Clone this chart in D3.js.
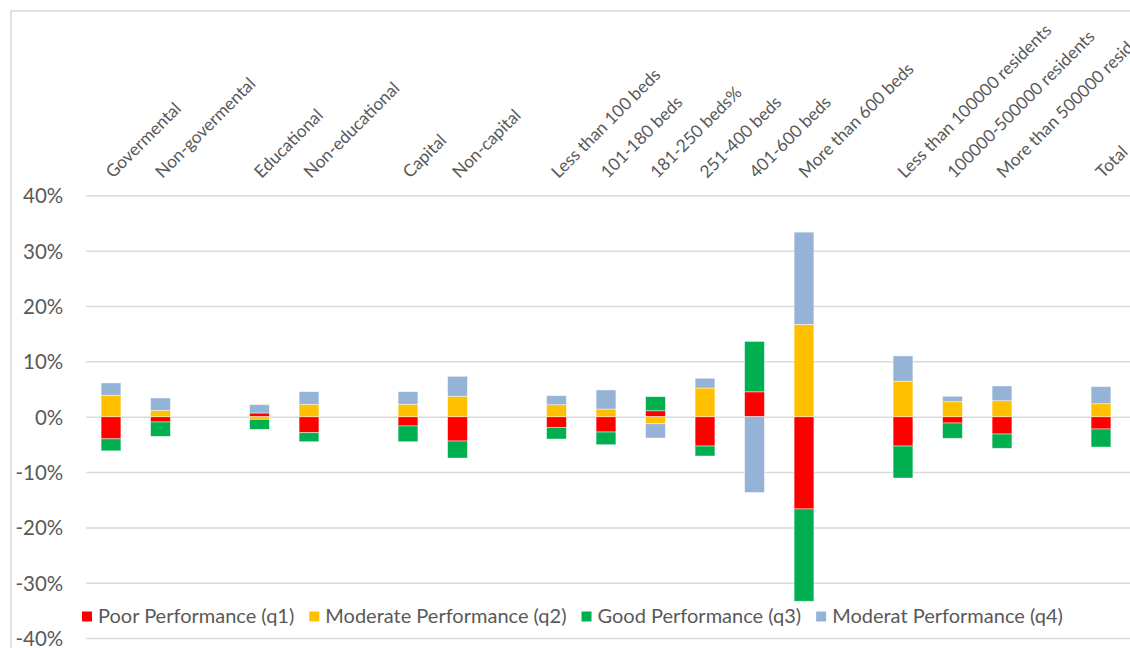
<!DOCTYPE html>
<html>
<head>
<meta charset="utf-8">
<script src="https://cdn.jsdelivr.net/npm/d3@7"></script>
<style>
  html, body { margin: 0; padding: 0; background: #fff; }
  #chart { width: 1130px; height: 648px; overflow: hidden; }
  text { font-family: Lato, "Open Sans", sans-serif; fill: #595959; }
</style>
</head>
<body>
<div id="chart"></div>
<script>
// categories ("" = empty spacer slot, as in the source sheet)
const categories = [
  "Govermental", "Non-govermental", "",
  "Educational", "Non-educational", "",
  "Capital", "Non-capital", "",
  "Less than 100 beds", "101-180 beds", "181-250 beds%", "251-400 beds", "401-600 beds", "More than 600 beds", "",
  "Less than 100000 residents", "100000-500000 residents", "More than 500000 residents", "",
  "Total"
];

// values in percent
const q1 = [-4.0, -0.96, null, 0.67, -2.89, null, -1.68, -4.39, null, -1.93, -2.77, 1.08, -5.3, 4.5, -16.67, null, -5.3, -1.14, -3.13, null, -2.22];
const q2 = [3.87, 1.15, null, -0.48, 2.24, null, 2.24, 3.69, null, 2.17, 1.39, -1.27, 5.19, 0, 16.67, null, 6.4, 2.71, 2.89, null, 2.35];
const q3 = [-2.17, -2.59, null, -1.8, -1.63, null, -2.84, -3.08, null, -2.1, -2.29, 2.54, -1.8, 9.1, -16.67, null, -5.78, -2.77, -2.58, null, -3.26];
const q4 = [2.23, 2.23, null, 1.5, 2.28, null, 2.28, 3.61, null, 1.63, 3.44, -2.58, 1.75, -13.7, 16.67, null, 4.58, 0.98, 2.66, null, 3.08];

const seriesNames = ["Poor Performance (q1)", "Moderate Performance (q2)", "Good Performance (q3)", "Moderat Performance (q4)"];
const seriesKeys = ["q1", "q2", "q3", "q4"];
const colors = ["#ff0000", "#ffc000", "#00b050", "#95b3d7"];
const yTicks = [-40, -30, -20, -10, 0, 10, 20, 30, 40];

const W = 1130, H = 648;
const plot = { left: 86.25, right: 1125.75, top: 195.3, bottom: 638.1 };

const svg = d3.select("#chart").append("svg")
  .attr("width", W).attr("height", H);

// chart frame (extends past the cropped right/bottom edges)
svg.append("rect")
  .attr("x", 11).attr("y", 11)
  .attr("width", W + 20).attr("height", H + 20)
  .attr("fill", "none").attr("stroke", "#d9d9d9").attr("stroke-width", 1.5);

const rows = categories.map((c, i) => ({
  idx: i, name: c,
  q1: q1[i] || 0, q2: q2[i] || 0, q3: q3[i] || 0, q4: q4[i] || 0
}));

const x = d3.scaleBand()
  .domain(d3.range(categories.length))
  .range([plot.left, plot.right])
  .paddingInner(0.6).paddingOuter(0.3);

const y = d3.scaleLinear()
  .domain([-40, 40])
  .range([plot.bottom, plot.top]);

// gridlines + y labels
const yAxis = svg.append("g")
  .attr("transform", `translate(${plot.left},0)`)
  .call(d3.axisLeft(y).tickValues(yTicks)
    .tickSize(-(W - plot.left))
    .tickPadding(23)
    .tickFormat(d => d + "%"));
yAxis.select(".domain").remove();
yAxis.selectAll("line").attr("stroke", "#d9d9d9").attr("stroke-width", 1.5);
yAxis.selectAll("text")
  .attr("fill", "#595959")
  .style("font-size", "20.5px")
  .attr("dy", "0.36em");

// stacked bars, diverging around zero
const stack = d3.stack()
  .keys(seriesKeys)
  .offset(d3.stackOffsetDiverging);
const layers = stack(rows);

svg.append("g").selectAll("g")
  .data(layers)
  .join("g")
  .attr("fill", (d, i) => colors[i])
  .selectAll("rect")
  .data(d => d.filter(p => p[1] !== p[0]))
  .join("rect")
  .attr("x", d => x(d.data.idx))
  .attr("width", x.bandwidth())
  .attr("y", d => y(Math.max(d[0], d[1])))
  .attr("height", d => Math.abs(y(d[0]) - y(d[1])))
  .attr("stroke", "#ffffff")
  .attr("stroke-opacity", 0.55)
  .attr("stroke-width", 0.8);

// category labels at top, rotated
svg.append("g").selectAll("text")
  .data(rows.filter(r => r.name !== ""))
  .join("text")
  .attr("transform", d => `translate(${x(d.idx) + x.bandwidth() / 2 + 2},179) rotate(-45)`)
  .attr("text-anchor", "start")
  .style("font-size", "17.3px")
  .text(d => d.name);

// legend
const legend = svg.append("g").attr("transform", "translate(82,623)");
let lx = 0;
seriesNames.forEach((name, i) => {
  const g = legend.append("g").attr("transform", `translate(${lx},0)`);
  g.append("rect")
    .attr("x", 0).attr("y", -11.5)
    .attr("width", 10).attr("height", 10)
    .attr("fill", colors[i]);
  const t = g.append("text")
    .attr("x", 16).attr("y", 0)
    .style("font-size", "20px")
    .text(name);
  lx += 16 + t.node().getComputedTextLength() + 15;
});
</script>
</body>
</html>
